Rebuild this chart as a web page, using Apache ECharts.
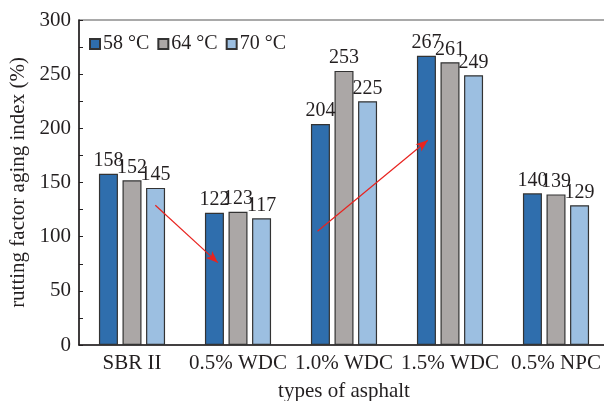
<!DOCTYPE html>
<html>
<head>
<meta charset="utf-8">
<script src="https://cdn.jsdelivr.net/npm/echarts@6/dist/echarts.min.js"></script>
<style>
html,body{margin:0;padding:0;background:#fff;}
#chart{width:604px;height:401px;}
</style>
</head>
<body>
<div id="chart"></div>
<script>
const categories = ['SBR II', '0.5% WDC', '1.0% WDC', '1.5% WDC', '0.5% NPC'];
const seriesNames = ['58 °C', '64 °C', '70 °C'];
const t58 = [158, 122, 204, 267, 140];
const t64 = [152, 123, 253, 261, 139];
const t70 = [145, 117, 225, 249, 129];
const colors = ['#2f6ead', '#aba7a6', '#9cbfe1'];
// trend arrows: [x (category position), y (index value)] start -> end
const arrowDown = [[0.22, 129], [0.81, 76]];
const arrowUp = [[1.75, 105], [2.79, 189]];

const font = 'Liberation Serif, Times New Roman, serif';
const chart = echarts.init(document.getElementById('chart'));

function barSeries(name, data, color) {
  return {
    name: name,
    type: 'bar',
    data: data,
    barWidth: 19,
    barGap: '24%',
    itemStyle: { color: color, borderColor: '#333', borderWidth: 1.2 },
    label: {
      show: true, position: 'top', distance: 3,
      fontFamily: font, fontSize: 20, color: '#231f20'
    }
  };
}

chart.setOption({
  animation: false,
  textStyle: { fontFamily: font },
  grid: {
    left: 79, top: 20, width: 530, height: 325,
    outerBoundsMode: 'none', containLabel: false,
    show: true, borderColor: '#555', borderWidth: 1.2
  },
  legend: {
    left: 84, top: 29,
    icon: 'rect', itemWidth: 10, itemHeight: 10, itemGap: 8,
    textStyle: { fontFamily: font, fontSize: 20, color: '#231f20', padding: [0, 0, 0, -2] },
    data: seriesNames
  },
  xAxis: [{
    type: 'category',
    data: categories,
    axisLine: { lineStyle: { color: '#231f20', width: 1.5 } },
    axisTick: { show: false },
    axisLabel: { fontFamily: font, fontSize: 21, color: '#231f20', margin: 8, interval: 0 },
    name: 'types of asphalt',
    nameLocation: 'middle',
    nameGap: 36,
    nameTextStyle: { fontFamily: font, fontSize: 21, color: '#231f20' }
  }, {
    type: 'value', min: -0.5, max: 4.5, show: false
  }],
  yAxis: {
    type: 'value', min: 0, max: 300, interval: 50,
    axisLine: { show: true, onZero: false, lineStyle: { color: '#231f20', width: 1.5 } },
    axisTick: { show: true, inside: true, length: 4, lineStyle: { color: '#231f20' } },
    minorTick: { show: true, splitNumber: 2, length: 4, lineStyle: { color: '#231f20' } },
    splitLine: { show: false },
    axisLabel: { fontFamily: font, fontSize: 21, color: '#231f20', margin: 8 },
    name: 'rutting factor aging index (%)',
    nameLocation: 'middle',
    nameGap: 49,
    nameTextStyle: { fontFamily: font, fontSize: 21, color: '#231f20' }
  },
  series: [
    barSeries(seriesNames[0], t58, colors[0]),
    barSeries(seriesNames[1], t64, colors[1]),
    barSeries(seriesNames[2], t70, colors[2]),
    {
      type: 'line', xAxisIndex: 1, data: [], silent: true,
      markLine: {
        silent: true,
        symbol: ['none', 'arrow'], symbolSize: [7, 12],
        lineStyle: { color: '#e8231f', width: 1.2, type: 'solid' },
        label: { show: false },
        data: [
          [{ coord: arrowDown[0] }, { coord: arrowDown[1] }],
          [{ coord: arrowUp[0] }, { coord: arrowUp[1] }]
        ]
      }
    }
  ]
});
</script>
</body>
</html>
